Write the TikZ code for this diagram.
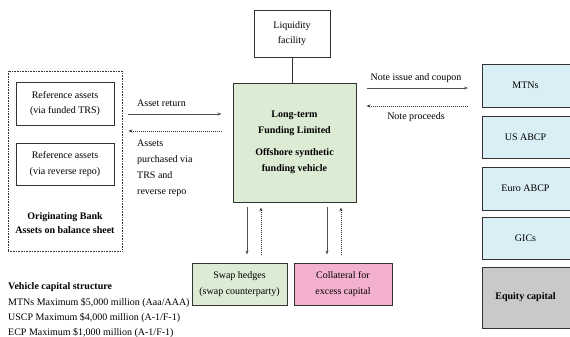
\documentclass[tikz,border=0pt]{standalone}
\usepackage{fontspec}
\setmainfont{Liberation Serif}
\usetikzlibrary{arrows.meta,calc}
\definecolor{gfill}{HTML}{DCEBD4}
\definecolor{bfill}{HTML}{DAEEF5}
\definecolor{pfill}{HTML}{F4B1CF}
\definecolor{efill}{HTML}{C9C9C9}
\definecolor{lcol}{HTML}{333333}
\begin{document}
\begin{tikzpicture}[x=1pt,y=-1pt,
  font=\fontsize{10}{15.5}\selectfont,
  box/.style={draw=lcol, line width=0.9pt, align=center, inner sep=0pt},
  solidarr/.style={draw=lcol!85, line width=0.8pt, -{Stealth[length=4pt,width=3pt]}},
  dotarr/.style={draw=lcol, line width=0.8pt, dash pattern=on 1pt off 1pt, -{Stealth[length=4pt,width=3pt]}},
  lbl/.style={inner sep=0pt, align=left}]
\useasboundingbox (0,0) rectangle (570,337);
\clip (0,0) rectangle (570,337);

% Liquidity facility
\node[box, minimum width=76pt, minimum height=47pt] (liq) at (292,33.5) {Liquidity\\facility};

% Main vehicle
\node[box, fill=gfill, minimum width=123pt, minimum height=119pt] (main) at (294.5,142.5)
  {\bfseries Long-term\\\bfseries Funding Limited\\[7pt]\bfseries Offshore synthetic\\\bfseries funding vehicle};

% Originating bank
\node[draw=lcol, line width=0.8pt, dash pattern=on 0.8pt off 0.8pt, minimum width=114pt, minimum height=180pt, inner sep=0pt] (bank) at (65,161) {};
\node[box, minimum width=98pt, minimum height=43pt] (ref1) at (65,103.5) {Reference assets\\(via funded TRS)};
\node[box, minimum width=98pt, minimum height=42pt] (ref2) at (65,164) {Reference assets\\(via reverse repo)};
\node[lbl, align=center, font=\fontsize{10}{14}\selectfont\bfseries] (orig) at (65,223) {Originating Bank\\Assets on balance sheet};

% Bottom boxes
\node[box, fill=gfill, minimum width=95pt, minimum height=42pt] (swap) at (239.5,284) {Swap hedges\\(swap counterparty)};
\node[box, fill=pfill, minimum width=98pt, minimum height=42pt] (coll) at (343,284) {Collateral for\\excess capital};

% Right boxes
\node[box, fill=bfill, minimum width=93pt, minimum height=43pt, anchor=west] (mtn) at (482,85.5) {};
\node[box, fill=bfill, minimum width=93pt, minimum height=42pt, anchor=west] (usab) at (482,137) {};
\node[box, fill=bfill, minimum width=93pt, minimum height=43pt, anchor=west] (euab) at (482,188.5) {};
\node[box, fill=bfill, minimum width=93pt, minimum height=42pt, anchor=west] (gic) at (482,238) {};
\node[box, fill=efill, minimum width=93pt, minimum height=61pt, anchor=west] (eq) at (482,297.5) {};
\node[lbl] (mtnt) at (525.5,85.5) {MTNs};
\node[lbl] (usabt) at (525.5,137) {US ABCP};
\node[lbl] (euabt) at (525.5,188.5) {Euro ABCP};
\node[lbl] (gict) at (525.5,238) {GICs};
\node[lbl, font=\bfseries] (eqt) at (525.5,297.5) {Equity capital};

% Liquidity link
\draw[lcol, line width=0.8pt] (liq.south) -- (liq.south |- main.north);

% Left arrows
\draw[solidarr, shorten <=6pt, shorten >=11pt] (bank.east |- 0,114) -- (main.west |- 0,114);
\draw[dotarr, shorten <=11pt, shorten >=6pt] (main.west |- 0,131) -- (bank.east |- 0,131);
\node[lbl, anchor=west] (art) at (137,103.5) {Asset return};
\node[lbl, anchor=north west, font=\fontsize{10}{15.8}\selectfont] (apt) at (137,140) {Assets\\purchased via\\TRS and\\reverse repo};

% Right arrows
\draw[solidarr, shorten <=11pt, shorten >=14pt] (main.east |- 0,88) -- (mtn.west |- 0,88);
\draw[dotarr, shorten <=14pt, shorten >=10pt] (mtn.west |- 0,106) -- (main.east |- 0,106);
\node[lbl] (nic) at (416,78) {Note issue and coupon};
\node[lbl] (np) at (416,117) {Note proceeds};

% Bottom arrows
\draw[solidarr, shorten <=5pt, shorten >=8pt] (main.south -| 247,0) -- (swap.north -| 247,0);
\draw[dotarr, shorten <=8pt, shorten >=5pt] (swap.north -| 261,0) -- (main.south -| 261,0);
\draw[solidarr, shorten <=5pt, shorten >=8pt] (main.south -| 327,0) -- (coll.north -| 327,0);
\draw[dotarr, shorten <=8pt, shorten >=5pt] (coll.north -| 341,0) -- (main.south -| 341,0);

% Capital structure
\node[lbl, anchor=west, font=\bfseries] (vcs) at (8,287.5) {Vehicle capital structure};
\node[lbl, anchor=west] (l1) at (8,303) {MTNs Maximum \$5,000 million (Aaa/AAA)};
\node[lbl, anchor=west] (l2) at (8,317.5) {USCP Maximum \$4,000 million (A-1/F-1)};
\node[lbl, anchor=west] (l3) at (8,332.5) {ECP Maximum \$1,000 million (A-1/F-1)};
\end{tikzpicture}
\end{document}
